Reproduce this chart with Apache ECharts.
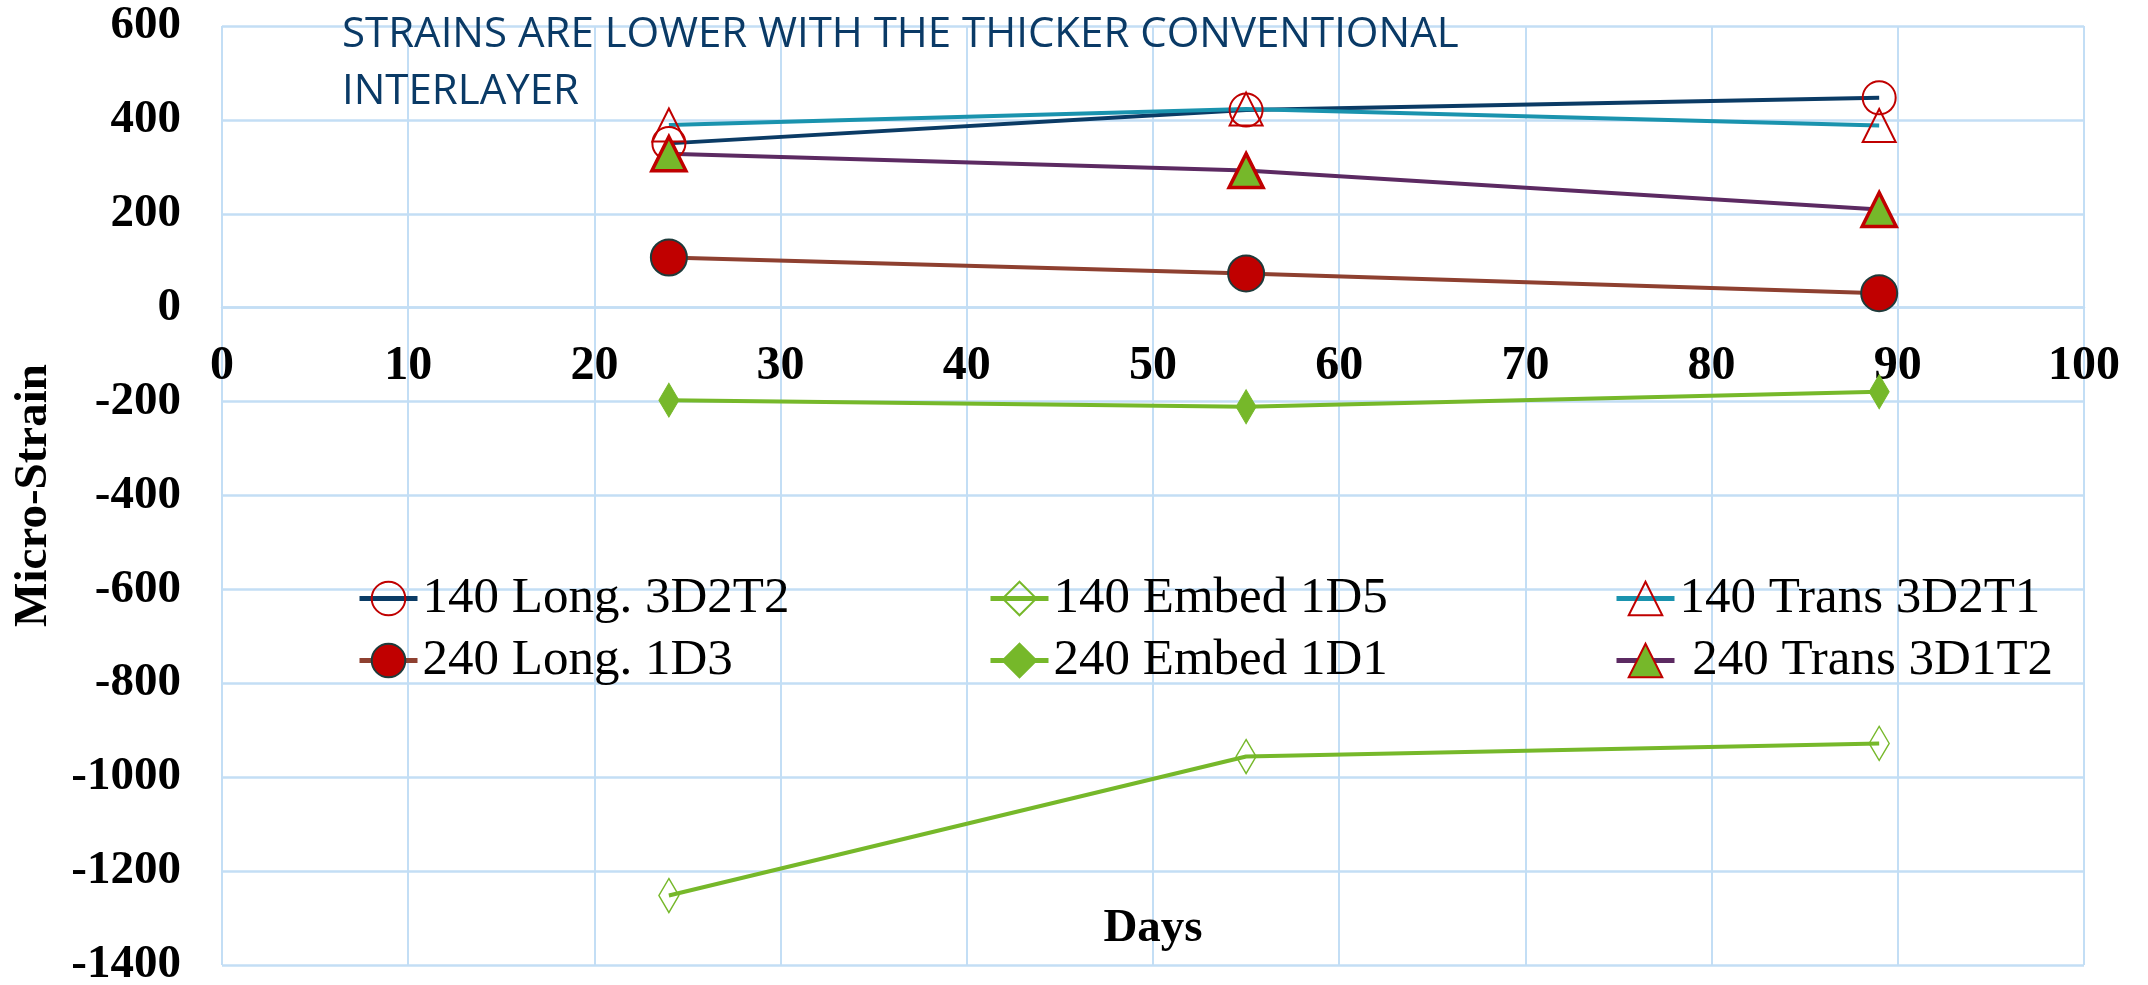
<!DOCTYPE html>
<html>
<head>
<meta charset="utf-8">
<script src="https://cdn.jsdelivr.net/npm/echarts@6/dist/echarts.min.js"></script>
<style>html,body{margin:0;padding:0;background:#fff}#c{width:2148px;height:985px}</style>
</head>
<body>
<div id="c"></div>
<script>
// ---- data ----
const days = [24, 55, 89];
const long140 = [350, 421, 447];
const long240 = [107, 73, 31];
const embed140 = [-1252, -956, -928];
const embed240 = [-197, -211, -179];
const trans140 = [389, 423, 388];
const trans240 = [328, 292, 209];
const seriesNames = ['140 Long. 3D2T2', '240 Long. 1D3', '140 Embed 1D5', '240 Embed 1D1', '140 Trans 3D2T1', ' 240 Trans 3D1T2'];
const noteText = 'STRAINS ARE LOWER WITH THE THICKER CONVENTIONAL\nINTERLAYER';
const xName = 'Days';
const yName = 'Micro-Strain';
const yMin = -1400, yMax = 600;

const pts = arr => days.map((d, i) => [d, arr[i]]);
const RED = '#C00000', GREEN = '#76B82A', GRID = '#C3DEF5';
const serif = "'Liberation Serif', 'Times New Roman', serif";

function mk(name, data, lineColor, symbol, size, itemStyle) {
  return {
    name, type: 'line', data: pts(data), symbol, symbolSize: size,
    lineStyle: { color: lineColor, width: 4 },
    itemStyle, emphasis: { disabled: true }, animation: false
  };
}

const series = [
  mk(seriesNames[0], long140, '#0B3B65', 'circle', 33, { color: 'rgba(255,255,255,0)', borderColor: RED, borderWidth: 2 }),
  mk(seriesNames[1], long240, '#8E4030', 'circle', 36, { color: RED, borderColor: '#1E3B3B', borderWidth: 2 }),
  mk(seriesNames[2], embed140, GREEN, 'diamond', [20, 34], { color: 'rgba(255,255,255,0)', borderColor: GREEN, borderWidth: 1.5 }),
  mk(seriesNames[3], embed240, GREEN, 'diamond', [20, 34], { color: GREEN, borderColor: GREEN, borderWidth: 1 }),
  mk(seriesNames[4], trans140, '#1A93AE', 'triangle', 33, { color: 'rgba(255,255,255,0)', borderColor: RED, borderWidth: 2 }),
  mk(seriesNames[5], trans240, '#5C2A62', 'triangle', 34, { color: GREEN, borderColor: RED, borderWidth: 3.5 })
];

const legendPos = [
  [357, 573], [357, 635], [988, 573], [988, 635], [1614, 573], [1614, 635]
];
const legends = seriesNames.map((n, i) => ({
  data: [n], left: legendPos[i][0], top: legendPos[i][1], padding: 0,
  itemWidth: 58, itemHeight: 42, selectedMode: false,
  lineStyle: { width: 5 },
  textStyle: { fontFamily: serif, fontSize: 51, color: '#000', lineHeight: 42 }
}));

// grid geometry
const gTop = 26, gBottom = 20, H = 985;
const gHeight = H - gTop - gBottom;
const zeroOffset = gHeight * (0 - yMin) / (yMax - yMin); // distance from bottom edge to y=0

const chart = echarts.init(document.getElementById('c'), null, { renderer: 'canvas' });
chart.setOption({
  backgroundColor: '#fff',
  animation: false,
  title: {
    text: noteText, left: 342, top: 7, padding: 0,
    textStyle: { fontFamily: "'Open Sans', sans-serif", fontWeight: 'normal', fontSize: 42, color: '#0A3A66', lineHeight: 57 }
  },
  grid: { left: 222, right: 64, top: gTop, bottom: gBottom, containLabel: false, outerBoundsMode: 'none' },
  legend: legends,
  xAxis: {
    type: 'value', min: 0, max: 100, interval: 10,
    position: 'bottom', offset: -zeroOffset,
    name: xName, nameLocation: 'middle', nameGap: 598,
    nameTextStyle: { fontFamily: serif, fontWeight: 'bold', fontSize: 47, color: '#000' },
    axisLine: { show: true, onZero: false, lineStyle: { color: GRID, width: 2.5 } },
    axisTick: { show: false },
    axisLabel: { fontFamily: serif, fontWeight: 'bold', fontSize: 48, color: '#000', margin: 35, formatter: v => String(v) },
    splitLine: { show: true, lineStyle: { color: GRID, width: 2 } }
  },
  yAxis: {
    type: 'value', min: yMin, max: yMax, interval: 200,
    name: yName, nameLocation: 'middle', nameGap: 165,
    nameTextStyle: { fontFamily: serif, fontWeight: 'bold', fontSize: 47, color: '#000' },
    axisLine: { show: false, onZero: false },
    axisTick: { show: false },
    axisLabel: { fontFamily: serif, fontWeight: 'bold', fontSize: 47, color: '#000', margin: 41, formatter: v => String(v) },
    splitLine: { show: true, lineStyle: { color: GRID, width: 2.5 } }
  },
  series
});
</script>
</body>
</html>
